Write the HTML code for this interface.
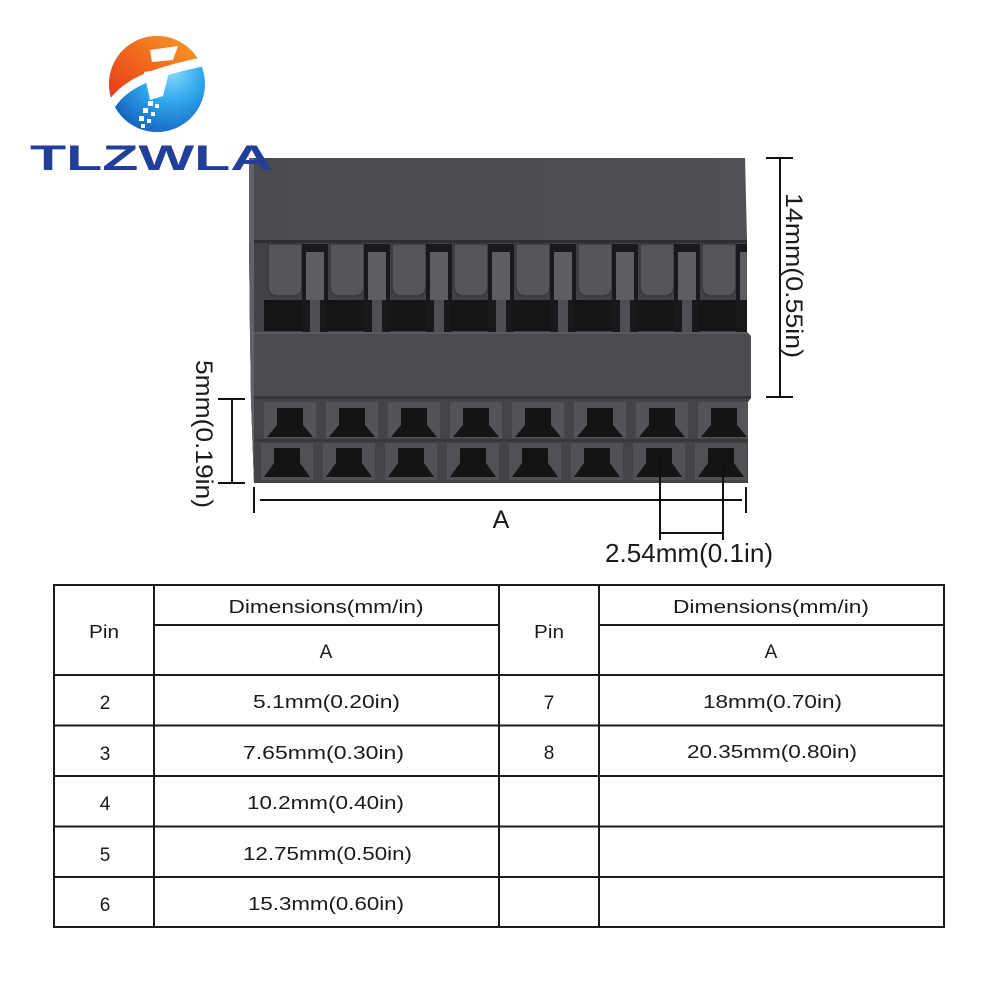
<!DOCTYPE html>
<html><head><meta charset="utf-8"><style>
html,body{margin:0;padding:0;background:#fff;}
svg{display:block;}
text{font-family:"Liberation Sans",sans-serif;}
</style></head><body>
<svg width="1000" height="1000" viewBox="0 0 1000 1000" xmlns="http://www.w3.org/2000/svg">
<defs>
<radialGradient id="blue" cx="0.62" cy="0.35" r="0.7">
<stop offset="0" stop-color="#8fdcff"/><stop offset="0.45" stop-color="#2fa6ec"/><stop offset="1" stop-color="#1257b8"/>
</radialGradient>
<linearGradient id="orange" x1="0" y1="1" x2="1" y2="0">
<stop offset="0" stop-color="#e2251d"/><stop offset="0.5" stop-color="#f06a1c"/><stop offset="1" stop-color="#f8b02a"/>
</linearGradient>
<clipPath id="circ"><circle cx="157" cy="84" r="48"/></clipPath>
<clipPath id="body"><polygon points="249,158 745,158 747,240 747,332 751,336 751,398 748,402 748,483 254,483 251,400 250,332 249,240"/></clipPath>
<linearGradient id="topg" x1="0" y1="0" x2="1" y2="0">
<stop offset="0" stop-color="#4a4b4f"/><stop offset="1" stop-color="#505155"/>
</linearGradient>
</defs>

<!-- connector body -->
<g clip-path="url(#body)">
<rect x="240" y="150" width="520" height="340" fill="url(#topg)"/>
<rect x="240" y="240" width="520" height="92" fill="#414246"/>
<rect x="240" y="240" width="520" height="3" fill="#2e2f32"/>
<g id="latches">
<g>
<rect x="264" y="300" width="46" height="31" fill="#151517"/>
<path d="M268,244 h34 v42 q0,10 -10,10 h-14 q-10,0 -10,-10 z" fill="#55565a" stroke="#38393c" stroke-width="1.5"/>
<rect x="302" y="244" width="26" height="88" fill="#19191b"/>
<rect x="306" y="252" width="18" height="48" fill="#5d5e62"/>
<rect x="310" y="300" width="10" height="32" fill="#4e4f53"/>
</g>
<g transform="translate(62,0)">
<rect x="264" y="300" width="46" height="31" fill="#151517"/>
<path d="M268,244 h34 v42 q0,10 -10,10 h-14 q-10,0 -10,-10 z" fill="#55565a" stroke="#38393c" stroke-width="1.5"/>
<rect x="302" y="244" width="26" height="88" fill="#19191b"/>
<rect x="306" y="252" width="18" height="48" fill="#5d5e62"/>
<rect x="310" y="300" width="10" height="32" fill="#4e4f53"/>
</g>
<g transform="translate(124,0)">
<rect x="264" y="300" width="46" height="31" fill="#151517"/>
<path d="M268,244 h34 v42 q0,10 -10,10 h-14 q-10,0 -10,-10 z" fill="#55565a" stroke="#38393c" stroke-width="1.5"/>
<rect x="302" y="244" width="26" height="88" fill="#19191b"/>
<rect x="306" y="252" width="18" height="48" fill="#5d5e62"/>
<rect x="310" y="300" width="10" height="32" fill="#4e4f53"/>
</g>
<g transform="translate(186,0)">
<rect x="264" y="300" width="46" height="31" fill="#151517"/>
<path d="M268,244 h34 v42 q0,10 -10,10 h-14 q-10,0 -10,-10 z" fill="#55565a" stroke="#38393c" stroke-width="1.5"/>
<rect x="302" y="244" width="26" height="88" fill="#19191b"/>
<rect x="306" y="252" width="18" height="48" fill="#5d5e62"/>
<rect x="310" y="300" width="10" height="32" fill="#4e4f53"/>
</g>
<g transform="translate(248,0)">
<rect x="264" y="300" width="46" height="31" fill="#151517"/>
<path d="M268,244 h34 v42 q0,10 -10,10 h-14 q-10,0 -10,-10 z" fill="#55565a" stroke="#38393c" stroke-width="1.5"/>
<rect x="302" y="244" width="26" height="88" fill="#19191b"/>
<rect x="306" y="252" width="18" height="48" fill="#5d5e62"/>
<rect x="310" y="300" width="10" height="32" fill="#4e4f53"/>
</g>
<g transform="translate(310,0)">
<rect x="264" y="300" width="46" height="31" fill="#151517"/>
<path d="M268,244 h34 v42 q0,10 -10,10 h-14 q-10,0 -10,-10 z" fill="#55565a" stroke="#38393c" stroke-width="1.5"/>
<rect x="302" y="244" width="26" height="88" fill="#19191b"/>
<rect x="306" y="252" width="18" height="48" fill="#5d5e62"/>
<rect x="310" y="300" width="10" height="32" fill="#4e4f53"/>
</g>
<g transform="translate(372,0)">
<rect x="264" y="300" width="46" height="31" fill="#151517"/>
<path d="M268,244 h34 v42 q0,10 -10,10 h-14 q-10,0 -10,-10 z" fill="#55565a" stroke="#38393c" stroke-width="1.5"/>
<rect x="302" y="244" width="26" height="88" fill="#19191b"/>
<rect x="306" y="252" width="18" height="48" fill="#5d5e62"/>
<rect x="310" y="300" width="10" height="32" fill="#4e4f53"/>
</g>
<g transform="translate(434,0)">
<rect x="264" y="300" width="46" height="31" fill="#151517"/>
<path d="M268,244 h34 v42 q0,10 -10,10 h-14 q-10,0 -10,-10 z" fill="#55565a" stroke="#38393c" stroke-width="1.5"/>
<rect x="302" y="244" width="26" height="88" fill="#19191b"/>
<rect x="306" y="252" width="18" height="48" fill="#5d5e62"/>
</g>
</g>
<rect x="240" y="240" width="12" height="92" fill="#4a4b4f"/>
<rect x="240" y="332" width="520" height="66" fill="#4b4c50"/>
<rect x="240" y="332" width="520" height="2" fill="#58595d"/>
<rect x="240" y="396" width="520" height="3" fill="#333437"/>
<rect x="240" y="399" width="520" height="90" fill="#434448"/>
<rect x="240" y="439" width="520" height="3" fill="#38393c"/>
<g id="holes">
<g>
<rect x="264" y="402" width="52" height="36" fill="#535458"/>
<polygon points="277,408 303,408 303,425 313,437 267,437 277,425" fill="#141415"/>
<rect x="261" y="443" width="52" height="37" fill="#505155"/>
<polygon points="274,448 300,448 300,463 310,477 264,477 274,463" fill="#141415"/>
</g>
<g transform="translate(62,0)">
<rect x="264" y="402" width="52" height="36" fill="#535458"/>
<polygon points="277,408 303,408 303,425 313,437 267,437 277,425" fill="#141415"/>
<rect x="261" y="443" width="52" height="37" fill="#505155"/>
<polygon points="274,448 300,448 300,463 310,477 264,477 274,463" fill="#141415"/>
</g>
<g transform="translate(124,0)">
<rect x="264" y="402" width="52" height="36" fill="#535458"/>
<polygon points="277,408 303,408 303,425 313,437 267,437 277,425" fill="#141415"/>
<rect x="261" y="443" width="52" height="37" fill="#505155"/>
<polygon points="274,448 300,448 300,463 310,477 264,477 274,463" fill="#141415"/>
</g>
<g transform="translate(186,0)">
<rect x="264" y="402" width="52" height="36" fill="#535458"/>
<polygon points="277,408 303,408 303,425 313,437 267,437 277,425" fill="#141415"/>
<rect x="261" y="443" width="52" height="37" fill="#505155"/>
<polygon points="274,448 300,448 300,463 310,477 264,477 274,463" fill="#141415"/>
</g>
<g transform="translate(248,0)">
<rect x="264" y="402" width="52" height="36" fill="#535458"/>
<polygon points="277,408 303,408 303,425 313,437 267,437 277,425" fill="#141415"/>
<rect x="261" y="443" width="52" height="37" fill="#505155"/>
<polygon points="274,448 300,448 300,463 310,477 264,477 274,463" fill="#141415"/>
</g>
<g transform="translate(310,0)">
<rect x="264" y="402" width="52" height="36" fill="#535458"/>
<polygon points="277,408 303,408 303,425 313,437 267,437 277,425" fill="#141415"/>
<rect x="261" y="443" width="52" height="37" fill="#505155"/>
<polygon points="274,448 300,448 300,463 310,477 264,477 274,463" fill="#141415"/>
</g>
<g transform="translate(372,0)">
<rect x="264" y="402" width="52" height="36" fill="#535458"/>
<polygon points="277,408 303,408 303,425 313,437 267,437 277,425" fill="#141415"/>
<rect x="261" y="443" width="52" height="37" fill="#505155"/>
<polygon points="274,448 300,448 300,463 310,477 264,477 274,463" fill="#141415"/>
</g>
<g transform="translate(434,0)">
<rect x="264" y="402" width="52" height="36" fill="#535458"/>
<polygon points="277,408 303,408 303,425 313,437 267,437 277,425" fill="#141415"/>
<rect x="261" y="443" width="52" height="37" fill="#505155"/>
<polygon points="274,448 300,448 300,463 310,477 264,477 274,463" fill="#141415"/>
</g>
</g>
<rect x="248" y="150" width="6" height="340" fill="#616266"/>
</g>

<!-- logo -->
<g clip-path="url(#circ)">
<rect x="105" y="32" width="106" height="106" fill="url(#blue)"/>
<path d="M100,118 C112,88 140,72 215,58 L215,25 L100,25 Z" fill="url(#orange)"/>
<path d="M108,110 C122,84 150,72 212,60" fill="none" stroke="#fff" stroke-width="9"/>
<polygon points="144,72 170,68 163,96 150,100" fill="#fff"/>
<polygon points="150,50 178,46 173,60 152,62" fill="#fff"/>
</g>
<g fill="#fff">
<rect x="148" y="101" width="5" height="5"/><rect x="155" y="104" width="4" height="4"/>
<rect x="143" y="108" width="5" height="5"/><rect x="151" y="112" width="4" height="4"/>
<rect x="139" y="116" width="5" height="5"/><rect x="147" y="119" width="4" height="4"/>
<rect x="141" y="124" width="4" height="4"/>
</g>
<text x="30" y="170" font-size="35" font-weight="bold" fill="#213f99" textLength="243" lengthAdjust="spacingAndGlyphs">TLZWLA</text>

<!-- dimension lines -->
<g stroke="#111" stroke-width="2" fill="none">
<line x1="780" y1="158" x2="780" y2="397"/>
<line x1="766" y1="158" x2="793" y2="158"/>
<line x1="766" y1="397" x2="793" y2="397"/>
<line x1="232" y1="399" x2="232" y2="483"/>
<line x1="218" y1="399" x2="245" y2="399"/>
<line x1="218" y1="483" x2="245" y2="483"/>
<line x1="260" y1="500" x2="742" y2="500"/>
<line x1="254" y1="487" x2="254" y2="513"/>
<line x1="746" y1="487" x2="746" y2="513"/>
<line x1="660" y1="458" x2="660" y2="540"/>
<line x1="723" y1="458" x2="723" y2="540"/>
<line x1="660" y1="533" x2="723" y2="533"/>
</g>
<g fill="#1a1a1a">
<text transform="translate(786,275.5) rotate(90)" x="0" y="0" font-size="24" text-anchor="middle" textLength="165" lengthAdjust="spacingAndGlyphs">14mm(0.55in)</text>
<text transform="translate(196,434) rotate(90)" x="0" y="0" font-size="24" text-anchor="middle" textLength="148" lengthAdjust="spacingAndGlyphs">5mm(0.19in)</text>
<text x="501" y="528" font-size="25" text-anchor="middle">A</text>
<text x="689" y="562" font-size="26" text-anchor="middle" textLength="168" lengthAdjust="spacingAndGlyphs">2.54mm(0.1in)</text>
</g>

<!-- table -->
<g stroke="#1a1a1a" stroke-width="2" fill="none">
<rect x="54" y="585" width="890" height="342"/>
<line x1="154" y1="585" x2="154" y2="927"/>
<line x1="499" y1="585" x2="499" y2="927"/>
<line x1="599" y1="585" x2="599" y2="927"/>
<line x1="154" y1="625" x2="499" y2="625"/>
<line x1="599" y1="625" x2="944" y2="625"/>
<line x1="54" y1="675" x2="944" y2="675"/>
<line x1="54" y1="725.5" x2="944" y2="725.5"/>
<line x1="54" y1="776" x2="944" y2="776"/>
<line x1="54" y1="826.5" x2="944" y2="826.5"/>
<line x1="54" y1="877" x2="944" y2="877"/>
</g>
<g fill="#1a1a1a" font-size="18" text-anchor="middle">
<text x="104" y="638" textLength="30" lengthAdjust="spacingAndGlyphs">Pin</text>
<text x="326" y="613" textLength="195" lengthAdjust="spacingAndGlyphs">Dimensions(mm/in)</text>
<text x="326" y="658" font-size="19">A</text>
<text x="549" y="638" textLength="30" lengthAdjust="spacingAndGlyphs">Pin</text>
<text x="771" y="613" textLength="196" lengthAdjust="spacingAndGlyphs">Dimensions(mm/in)</text>
<text x="771" y="658" font-size="19">A</text>

<text x="105" y="709" font-size="19">2</text>
<text x="326.5" y="708" textLength="147" lengthAdjust="spacingAndGlyphs">5.1mm(0.20in)</text>
<text x="105" y="760" font-size="19">3</text>
<text x="323.5" y="759" textLength="161" lengthAdjust="spacingAndGlyphs">7.65mm(0.30in)</text>
<text x="105" y="810" font-size="19">4</text>
<text x="325.5" y="809" textLength="157" lengthAdjust="spacingAndGlyphs">10.2mm(0.40in)</text>
<text x="105" y="861" font-size="19">5</text>
<text x="327.5" y="860" textLength="169" lengthAdjust="spacingAndGlyphs">12.75mm(0.50in)</text>
<text x="105" y="911" font-size="19">6</text>
<text x="326" y="910" textLength="156" lengthAdjust="spacingAndGlyphs">15.3mm(0.60in)</text>

<text x="549" y="709" font-size="19">7</text>
<text x="772.5" y="708" textLength="139" lengthAdjust="spacingAndGlyphs">18mm(0.70in)</text>
<text x="549" y="759" font-size="19">8</text>
<text x="772" y="758" textLength="170" lengthAdjust="spacingAndGlyphs">20.35mm(0.80in)</text>
</g>
</svg>
</body></html>
